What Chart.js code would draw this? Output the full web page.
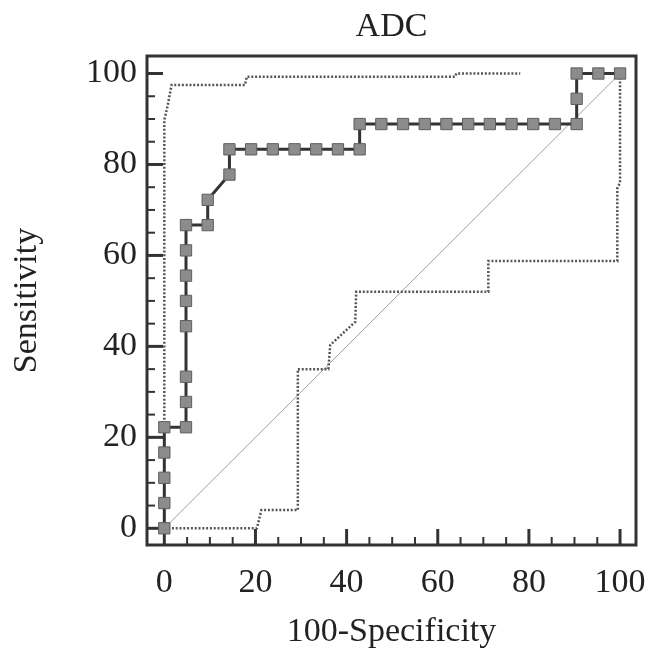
<!DOCTYPE html>
<html>
<head>
<meta charset="utf-8">
<script src="https://cdn.jsdelivr.net/npm/chart.js@4/dist/chart.umd.min.js"></script>
<style>
  html, body { margin: 0; padding: 0; background: #fff; }
  canvas { display: block; }
</style>
</head>
<body>
<canvas id="rocChart" width="648" height="649"></canvas>
<script>
// ROC curve (100-Specificity vs Sensitivity)
const rocX = [0, 0, 0, 0, 0,
  4.76, 4.76, 4.76, 4.76, 4.76, 4.76, 4.76, 4.76,
  9.52, 9.52, 14.29, 14.29,
  19.05, 23.81, 28.57, 33.33, 38.10, 42.86,
  42.86, 47.62, 52.38, 57.14, 61.90, 66.67, 71.43, 76.19, 80.95, 85.71, 90.48,
  90.48, 90.48, 95.24, 100];
const rocY = [0, 5.56, 11.11, 16.67, 22.22,
  22.22, 27.78, 33.33, 44.44, 50, 55.56, 61.11, 66.67,
  66.67, 72.22, 77.78, 83.33,
  83.33, 83.33, 83.33, 83.33, 83.33, 83.33,
  88.89, 88.89, 88.89, 88.89, 88.89, 88.89, 88.89, 88.89, 88.89, 88.89, 88.89,
  94.44, 100, 100, 100];

// 95% confidence bounds
const upperX = [0, 0, 0.6, 1.6, 17.7, 18.1, 63.8, 64.1, 78.1];
const upperY = [22.22, 89.8, 92.3, 97.5, 97.5, 99.3, 99.3, 100, 100];
const lowerX = [0, 20.3, 21.3, 29.3, 29.3, 36.0, 36.4, 41.9, 42.1, 71.1, 71.1, 99.4, 99.4, 100, 100];
const lowerY = [0, 0, 4, 4, 35, 35, 40.3, 45.4, 52, 52, 58.8, 58.8, 74.8, 76, 100];

// reference diagonal
const diagX = [0, 100];
const diagY = [0, 100];

const majorTicks = [0, 20, 40, 60, 80, 100];
const minorTicks = [5, 10, 15, 25, 30, 35, 45, 50, 55, 65, 70, 75, 85, 90, 95];

const toPoints = (xs, ys) => xs.map((x, i) => ({ x: x, y: ys[i] }));
const serif = "'Liberation Serif', 'Times New Roman', serif";
const textColor = "#222";
const labelFont = { family: serif, size: 34, lineHeight: 1 };

// frame + inward tick marks
const framePlugin = {
  id: "frame",
  beforeDatasetsDraw(chart) {
    const ctx = chart.ctx;
    const a = chart.chartArea;
    const xs = chart.scales.x;
    const ys = chart.scales.y;
    ctx.save();
    ctx.strokeStyle = "#333";
    ctx.lineCap = "butt";
    majorTicks.concat(minorTicks).forEach(function (v) {
      const major = majorTicks.includes(v);
      const len = major ? 16 : 8;
      ctx.lineWidth = major ? 3 : 2;
      const px = xs.getPixelForValue(v);
      ctx.beginPath();
      ctx.moveTo(px, a.bottom);
      ctx.lineTo(px, a.bottom - len);
      ctx.stroke();
      const py = ys.getPixelForValue(v);
      ctx.beginPath();
      ctx.moveTo(a.left, py);
      ctx.lineTo(a.left + len, py);
      ctx.stroke();
    });
    ctx.lineWidth = 3;
    ctx.strokeRect(a.left, a.top, a.right - a.left, a.bottom - a.top);
    ctx.restore();
  },
};

const ctx = document.getElementById("rocChart").getContext("2d");
new Chart(ctx, {
  type: "scatter",
  data: {
    datasets: [
      {
        label: "ADC",
        data: toPoints(rocX, rocY),
        showLine: true,
        borderColor: "#333",
        borderWidth: 3,
        pointStyle: "rect",
        pointRadius: 8,
        pointBackgroundColor: "#8c8c8c",
        pointBorderColor: "#5e5e5e",
        pointBorderWidth: 1,
      },
      {
        label: "Upper 95% CI",
        data: toPoints(upperX, upperY),
        showLine: true,
        borderColor: "#555",
        borderWidth: 2.5,
        borderDash: [2, 1.8],
        pointRadius: 0,
      },
      {
        label: "Lower 95% CI",
        data: toPoints(lowerX, lowerY),
        showLine: true,
        borderColor: "#555",
        borderWidth: 2.5,
        borderDash: [2, 1.8],
        pointRadius: 0,
      },
      {
        label: "Reference",
        data: toPoints(diagX, diagY),
        showLine: true,
        borderColor: "#a0a0a0",
        borderWidth: 1,
        pointRadius: 0,
      },
    ],
  },
  options: {
    responsive: false,
    animation: false,
    layout: { padding: { left: 0, right: 12, top: 0, bottom: 0 } },
    plugins: {
      legend: { display: false },
      tooltip: { enabled: false },
    },
    scales: {
      x: {
        type: "linear",
        position: "bottom",
        min: -3.8,
        max: 103.5,
        afterBuildTicks: (s) => { s.ticks = majorTicks.map((v) => ({ value: v })); },
        afterFit: (s) => { s.height = 104; s.paddingLeft = 0; s.paddingRight = 0; },
        grid: { display: false, drawTicks: false },
        border: { display: false },
        ticks: { font: labelFont, color: textColor, padding: 21, maxRotation: 0, autoSkip: false },
        title: { display: true, text: "100-Specificity", font: labelFont, color: textColor, padding: { top: 0, bottom: 0 } },
      },
      x2: {
        type: "linear",
        position: "top",
        min: -3.8,
        max: 103.5,
        afterFit: (s) => { s.height = 56; s.paddingLeft = 0; s.paddingRight = 0; },
        grid: { display: false, drawTicks: false },
        border: { display: false },
        ticks: { display: false },
        title: { display: true, text: "ADC", font: labelFont, color: textColor, padding: { top: 10, bottom: 0 } },
      },
      y: {
        type: "linear",
        min: -3.67,
        max: 103.85,
        afterBuildTicks: (s) => { s.ticks = majorTicks.map((v) => ({ value: v })); },
        afterFit: (s) => { s.width = 147; s.paddingTop = 0; s.paddingBottom = 0; },
        grid: { display: false, drawTicks: false },
        border: { display: false },
        ticks: { font: labelFont, color: textColor, padding: 10 },
        title: { display: true, text: "Sensitivity", font: labelFont, color: textColor, padding: { top: 10, bottom: 0 } },
      },
    },
  },
  plugins: [framePlugin],
});
</script>
</body>
</html>
